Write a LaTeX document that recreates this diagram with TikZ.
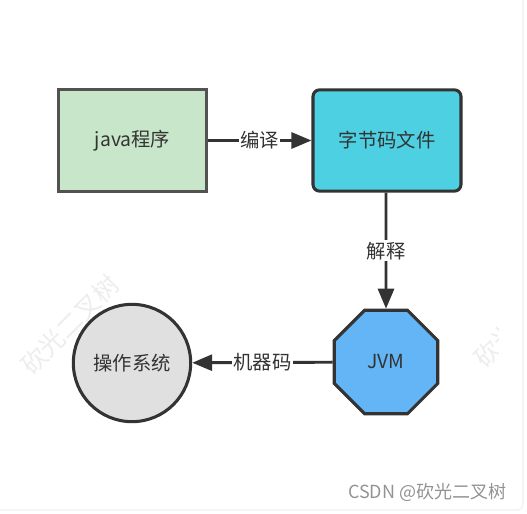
\documentclass[tikz,border=0pt]{standalone}
\usepackage{fontspec}
\setmainfont{Noto Sans CJK SC}
\usetikzlibrary{arrows.meta}
\usetikzlibrary{shapes.geometric}

\begin{document}
\begin{tikzpicture}[x=0.75pt,y=-0.75pt,
        txt/.style={text=textgray,font=\fontsize{14.5}{16}\selectfont},
        box/.style={txt,draw=boxline,line width=2.3pt,minimum width=111pt,minimum height=76pt,inner sep=0pt},
        conn/.style={draw=boxline,line width=2.2pt,-{Triangle[length=15pt,width=12pt]}},
        lbl/.style={txt,fill=white,inner sep=1pt},
        watermark/.style={text=gray!14,font=\fontsize{19}{21}\selectfont,rotate=45}]
            \definecolor{textgray}{HTML}{333333}
            \definecolor{boxline}{HTML}{333333}
            \definecolor{greenbox}{HTML}{C8E6C9}
            \definecolor{cyanbox}{HTML}{4DD0E1}
            \definecolor{bluebox}{HTML}{64B5F6}
            \definecolor{graybox}{HTML}{E0E0E0}
            \useasboundingbox (0,0) rectangle (527,513);

            % watermarks
            \node[watermark] (markleft) at (70,325) {砍光二叉树};
            \begin{scope}
                \clip (0,0) rectangle (498,510);
                \node[watermark] (markright) at (523,318) {砍光二叉树};
            \end{scope}
            \draw[gray!12, line width=0.8pt, rounded corners=4pt] (523,0) -- (523,510) -- (0,510);
            \node[anchor=east, text=gray!85, font=\fontsize{13.5}{15}\selectfont] (credit) at (511,492) {CSDN @砍光二叉树};

            % nodes
            \node[box, draw=boxline!85, fill=greenbox] (java) at (132.5,140.5) {java程序};
            \node[box, fill=cyanbox, rounded corners=5pt] (bytecode) at (387,140.5) {字节码文件};
            \node[txt, draw=boxline, line width=2.3pt, fill=bluebox, regular polygon, regular polygon sides=8, minimum size=84pt, inner sep=0pt] (jvm) at (386,362) {JVM};
            \node[txt, draw=boxline, line width=2.3pt, fill=graybox, circle, minimum size=88pt, inner sep=0pt] (os) at (132,363) {操作系统};

            % connectors
            \draw[conn] (java) -- node[lbl] {编译} (bytecode);
            \draw[conn] (bytecode.south -| jvm) -- node[lbl] {解释} (jvm.north);
            \draw[conn] (jvm) -- node[lbl] {机器码} (os);
        \end{tikzpicture}
\end{document}
